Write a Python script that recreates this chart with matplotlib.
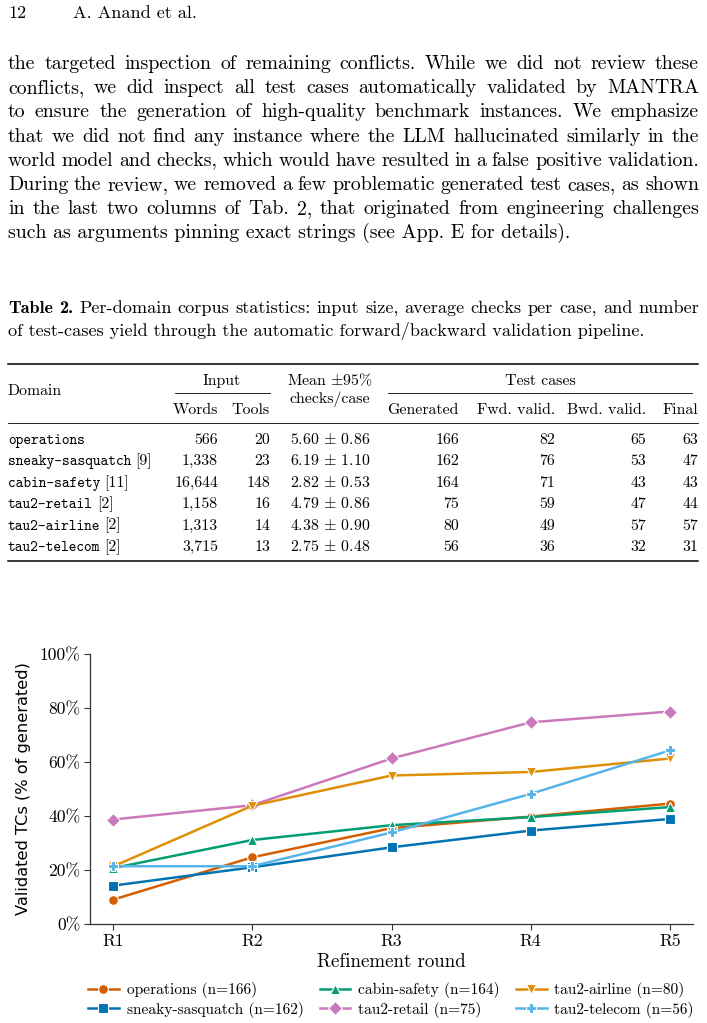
import matplotlib
matplotlib.use("Agg")
import matplotlib.pyplot as plt
from matplotlib.lines import Line2D

plt.rcParams['font.family'] = ['cmr10', 'DejaVu Sans']
plt.rcParams['mathtext.fontset'] = 'cm'
plt.rcParams['axes.formatter.use_mathtext'] = True

# ---- data -------------------------------------------------------------
rounds = ['R1', 'R2', 'R3', 'R4', 'R5']
operations = [9.0, 24.7, 35.5, 39.8, 44.6]
sneaky_sasquatch = [14.2, 21.0, 28.4, 34.6, 38.9]
cabin_safety = [20.7, 31.1, 36.6, 39.6, 43.3]
tau2_retail = [38.7, 44.0, 61.3, 74.7, 78.7]
tau2_airline = [21.3, 43.8, 55.0, 56.3, 61.3]
tau2_telecom = [21.4, 21.4, 33.9, 48.2, 64.3]
y_ticks = [0, 20, 40, 60, 80, 100]

table_domains = ['operations', 'sneaky-sasquatch', 'cabin-safety',
                 'tau2-retail', 'tau2-airline', 'tau2-telecom']
table_refs = ['', '[9]', '[11]', '[2]', '[2]', '[2]']
table_words = ['566', '1,338', '16,644', '1,158', '1,313', '3,715']
table_tools = ['20', '23', '148', '16', '14', '13']
table_mean = ['5.60', '6.19', '2.82', '4.79', '4.38', '2.75']
table_ci = ['0.86', '1.10', '0.53', '0.86', '0.90', '0.48']
table_generated = ['166', '162', '164', '75', '80', '56']
table_fwd = ['82', '76', '71', '59', '49', '36']
table_bwd = ['65', '53', '43', '47', '57', '32']
table_final = ['63', '47', '43', '44', '57', '31']

body_lines = [
    "the targeted inspection of remaining conflicts. While we did not review these",
    "conflicts, we did inspect all test cases automatically validated by MANTRA",
    "to ensure the generation of high-quality benchmark instances. We emphasize",
    "that we did not find any instance where the LLM hallucinated similarly in the",
    "world model and checks, which would have resulted in a false positive validation.",
    "During the review, we removed a few problematic generated test cases, as shown",
    "in the last two columns of Tab. 2, that originated from engineering challenges",
    "such as arguments pinning exact strings (see App. E for details).",
]
caption_head = "Table 2."
caption_lines = [
    "Per-domain corpus statistics: input size, average checks per case, and number",
    "of test-cases yield through the automatic forward/backward validation pipeline.",
]

# ---- page helpers -----------------------------------------------------
W, H = 707, 1023
fig = plt.figure(figsize=(W / 100, H / 100), dpi=100)
renderer = fig.canvas.get_renderer()


def put(x, y, s, **kw):
    kw.setdefault('va', 'baseline')
    return fig.text(x / W, 1 - y / H, s, **kw)


def width(t):
    return t.get_window_extent(renderer).width


def justify(y, words, x0, x1, size):
    # words: list of (word, family)
    texts = [put(0, y, w, family=f, size=size) for w, f in words]
    widths = [width(t) for t in texts]
    gap = (x1 - x0 - sum(widths)) / (len(texts) - 1)
    x = x0
    for t, w in zip(texts, widths):
        t.set_x(x / W)
        x += w + gap


def hrule(y, x0, x1, lw):
    fig.add_artist(Line2D([x0 / W, x1 / W], [1 - y / H] * 2,
                          transform=fig.transFigure, color='black', lw=lw))


BODY = 14.3
SMALL = 13.1
TAB = 11.4
TT = 10.6

# header
put(8, 18, "12", size=SMALL)
put(73, 18, "A. Anand et al.", size=SMALL)

# body text
for i, line in enumerate(body_lines):
    y = 69 + i * 24.2
    if i < len(body_lines) - 1:
        justify(y, [(w, 'cmr10') for w in line.split()], 8, 699, BODY)
    else:
        put(8, y, line, size=BODY)

# table caption
head = [(w, 'cmb10') for w in caption_head.split()]
justify(313, head + [(w, 'cmr10') for w in caption_lines[0].split()], 8, 699, SMALL)
put(8, 336, caption_lines[1], size=SMALL)

# table
hrule(364, 8, 698, 1.1)
put(222, 385, "Input", size=TAB, ha='center')
put(330, 385, r"Mean $\pm$95%", size=TAB, ha='center')
put(330, 403, "checks/case", size=TAB, ha='center')
put(540, 385, "Test cases", size=TAB, ha='center')
put(8, 395, "Domain", size=TAB)
hrule(393, 175, 270, 0.6)
hrule(393, 388, 692, 0.6)
for label, xr in [("Words", 218), ("Tools", 270), ("Generated", 459),
                  ("Fwd. valid.", 555), ("Bwd. valid.", 646), ("Final", 698)]:
    put(xr, 414, label, size=TAB, ha='right')
hrule(423, 8, 698, 0.6)

for i in range(len(table_domains)):
    y = 444 + i * 21.4
    t = put(8, y, table_domains[i], size=TT, family='cmtt10')
    if table_refs[i]:
        put(8 + width(t) + 4, y, table_refs[i], size=TAB)
    put(218, y, table_words[i], size=TAB, ha='right')
    put(270, y, table_tools[i], size=TAB, ha='right')
    put(330, y, table_mean[i] + r" $\pm$ " + table_ci[i], size=TAB, ha='center')
    put(459, y, table_generated[i], size=TAB, ha='right')
    put(555, y, table_fwd[i], size=TAB, ha='right')
    put(646, y, table_bwd[i], size=TAB, ha='right')
    put(698, y, table_final[i], size=TAB, ha='right')
hrule(561, 8, 698, 1.1)

# ---- chart ------------------------------------------------------------
ax = fig.add_axes([90 / W, (H - 924) / H, (693 - 90) / W, (924 - 654) / H])
series = [
    ("operations (n=166)", operations, '#D55E00', 'o'),
    ("sneaky-sasquatch (n=162)", sneaky_sasquatch, '#0173B2', 's'),
    ("cabin-safety (n=164)", cabin_safety, '#029E73', '^'),
    ("tau2-retail (n=75)", tau2_retail, '#CC78BC', 'D'),
    ("tau2-airline (n=80)", tau2_airline, '#DE8F05', 'v'),
    ("tau2-telecom (n=56)", tau2_telecom, '#56B4E9', 'P'),
]
x = range(len(rounds))
for label, vals, color, marker in series:
    ax.plot(x, vals, color=color, marker=marker, lw=1.8, markersize=7,
            markeredgecolor='white', markeredgewidth=0.8, label=label)

ax.set_xlim(-0.165, len(rounds) - 1 + 0.165)
ax.set_ylim(0, 100)
ax.set_xticks(list(x))
ax.set_xticklabels(rounds, size=12.6)
ax.set_yticks(y_ticks)
ax.set_yticklabels([f"{v}%" for v in y_ticks], size=12.6)
ax.tick_params(length=4, width=0.8, color='#333333', pad=3)
for side in ['top', 'right']:
    ax.spines[side].set_visible(False)
for side in ['left', 'bottom']:
    ax.spines[side].set_color('#333333')
    ax.spines[side].set_linewidth(0.9)
ax.set_xlabel("Refinement round", size=13.6, labelpad=3)
ax.set_ylabel("Validated TCs (% of generated)", size=11.7,
              family='DejaVu Sans', labelpad=6)

fig.legend(loc='upper center', bbox_to_anchor=(391 / W, 1 - 982 / H),
           ncol=3, frameon=False, fontsize=11.1, handlelength=2.0,
           handletextpad=0.5, columnspacing=1.05, labelspacing=0.25,
           borderaxespad=0, borderpad=0)

fig.savefig("out.png", dpi=100)
